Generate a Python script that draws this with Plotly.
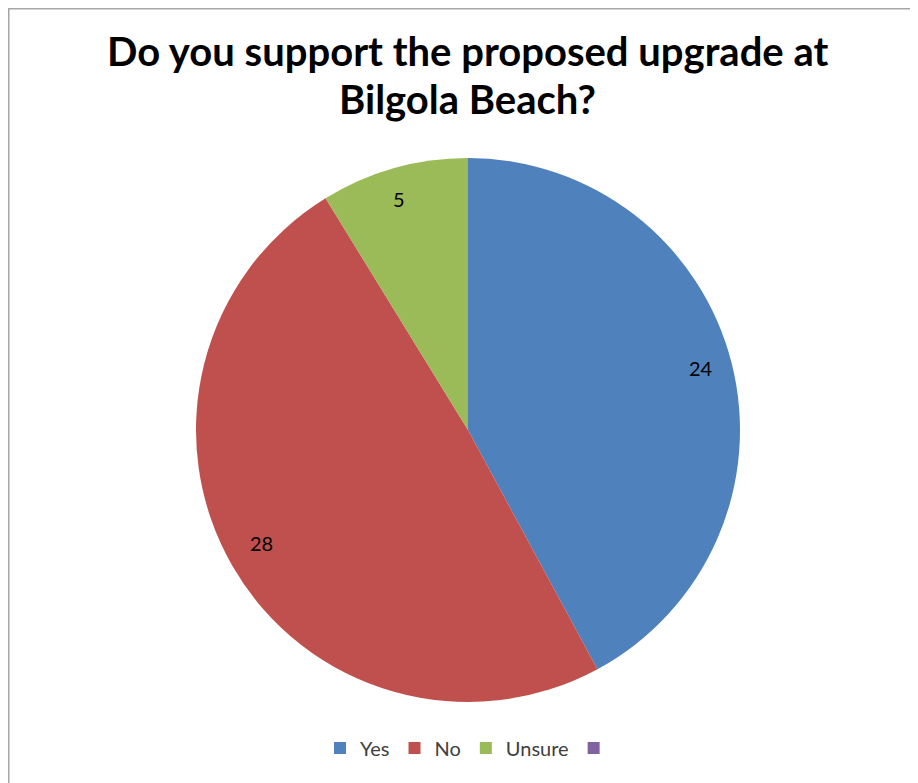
import math
import plotly.graph_objects as go

categories = ["Yes", "No", "Unsure", " "]
values = [24, 28, 5, 0]
colors = ["#4F81BD", "#C0504D", "#9BBB59", "#8064A2"]
title_lines = ["Do you support the proposed upgrade at", "Bilgola Beach?"]

W, H = 918, 783
cx, cy, R = 460, 422, 272  # pie centre / radius in px (figure coords)

fig = go.Figure()
fig.add_trace(go.Pie(
    labels=categories,
    values=values,
    marker=dict(colors=colors, line=dict(width=0)),
    sort=False,
    direction="clockwise",
    rotation=0,
    textinfo="none",
    hoverinfo="label+value",
    domain=dict(x=[(cx - R) / W, (cx + R) / W], y=[1 - (cy + R) / H, 1 - (cy - R) / H]),
))

# data labels at "inside end" like the original
total = sum(values)
cum = 0
for lab, v in zip(categories, values):
    if v > 0:
        mid = (cum + v / 2) / total * 2 * math.pi
        r = 0.935 * R
        px = cx + r * math.sin(mid)
        py = cy - r * math.cos(mid)
        fig.add_annotation(x=px / W, y=1 - py / H, xref="paper", yref="paper",
                           text=str(v), showarrow=False,
                           font=dict(family="Lato", size=20, color="#000000"))
    cum += v

# title as two centred lines
for i, line in enumerate(title_lines):
    fig.add_annotation(x=460 / W, y=1 - (43 + 48 * i) / H, xref="paper", yref="paper",
                       xanchor="center", yanchor="middle", text=line, showarrow=False,
                       font=dict(family="Lato", size=40, color="#000000", weight="bold"))

fig.update_layout(
    width=W, height=H,
    margin=dict(l=0, r=0, t=0, b=0),
    paper_bgcolor="white",
    legend=dict(orientation="h", x=464 / W, xanchor="center", y=1 - 740 / H, yanchor="middle",
                font=dict(family="Lato", size=20, color="#404040"), itemclick=False),
    shapes=[dict(type="rect", xref="paper", yref="paper", x0=0.5 / W, x1=1.05,
                 y0=-0.05, y1=1 - 0.5 / H, line=dict(color="#A6A6A6", width=2))],
)

fig.write_html("out.html")
